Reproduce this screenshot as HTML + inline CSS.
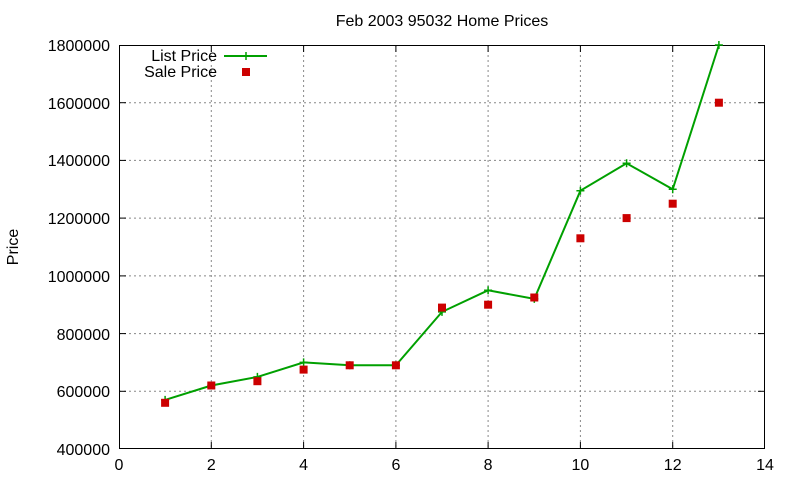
<!DOCTYPE html>
<html><head><meta charset="utf-8"><style>body{margin:0;background:#fff}svg{display:block}text{font-family:"Liberation Sans",sans-serif;font-size:16px;fill:#000}</style></head><body>
<svg width="800" height="480" xmlns="http://www.w3.org/2000/svg">
<rect width="800" height="480" fill="#fff"/>
<g stroke="#888" stroke-width="1" stroke-dasharray="2,3">
<line x1="119" y1="391.3" x2="765" y2="391.3"/><line x1="119" y1="333.6" x2="765" y2="333.6"/><line x1="119" y1="275.9" x2="765" y2="275.9"/><line x1="119" y1="218.1" x2="765" y2="218.1"/><line x1="119" y1="160.4" x2="765" y2="160.4"/><line x1="119" y1="102.7" x2="765" y2="102.7"/>
<line x1="211.3" y1="45" x2="211.3" y2="449"/><line x1="303.6" y1="45" x2="303.6" y2="449"/><line x1="395.9" y1="45" x2="395.9" y2="449"/><line x1="488.1" y1="45" x2="488.1" y2="449"/><line x1="580.4" y1="45" x2="580.4" y2="449"/><line x1="672.7" y1="45" x2="672.7" y2="449"/>
</g>
<rect x="119.5" y="45.5" width="645" height="403" fill="none" stroke="#000"/>
<g stroke="#000">
<line x1="119" y1="391.3" x2="126" y2="391.3"/><line x1="119" y1="333.6" x2="126" y2="333.6"/><line x1="119" y1="275.9" x2="126" y2="275.9"/><line x1="119" y1="218.1" x2="126" y2="218.1"/><line x1="119" y1="160.4" x2="126" y2="160.4"/><line x1="119" y1="102.7" x2="126" y2="102.7"/>
<line x1="758" y1="391.3" x2="765" y2="391.3"/><line x1="758" y1="333.6" x2="765" y2="333.6"/><line x1="758" y1="275.9" x2="765" y2="275.9"/><line x1="758" y1="218.1" x2="765" y2="218.1"/><line x1="758" y1="160.4" x2="765" y2="160.4"/><line x1="758" y1="102.7" x2="765" y2="102.7"/>
<line x1="211.3" y1="449" x2="211.3" y2="442"/><line x1="303.6" y1="449" x2="303.6" y2="442"/><line x1="395.9" y1="449" x2="395.9" y2="442"/><line x1="488.1" y1="449" x2="488.1" y2="442"/><line x1="580.4" y1="449" x2="580.4" y2="442"/><line x1="672.7" y1="449" x2="672.7" y2="442"/>
<line x1="211.3" y1="45" x2="211.3" y2="52"/><line x1="303.6" y1="45" x2="303.6" y2="52"/><line x1="395.9" y1="45" x2="395.9" y2="52"/><line x1="488.1" y1="45" x2="488.1" y2="52"/><line x1="580.4" y1="45" x2="580.4" y2="52"/><line x1="672.7" y1="45" x2="672.7" y2="52"/>
</g>
<g text-anchor="end">
<text x="110" y="455">400000</text><text x="110" y="397">600000</text><text x="110" y="340">800000</text><text x="110" y="282">1000000</text><text x="110" y="224">1200000</text><text x="110" y="166">1400000</text><text x="110" y="109">1600000</text><text x="110" y="51">1800000</text>
</g>
<g text-anchor="middle">
<text x="119" y="470">0</text><text x="211.3" y="470">2</text><text x="303.6" y="470">4</text><text x="395.9" y="470">6</text><text x="488.1" y="470">8</text><text x="580.4" y="470">10</text><text x="672.7" y="470">12</text><text x="765" y="470">14</text>
<text x="442" y="26">Feb 2003 95032 Home Prices</text>
<text transform="translate(18,247) rotate(-90)">Price</text>
</g>
<text x="217" y="61" text-anchor="end">List Price</text>
<text x="217" y="77" text-anchor="end">Sale Price</text>
<g stroke="#00a000" stroke-width="2" fill="none">
<line x1="224" y1="56" x2="267" y2="56"/>
<polyline points="165.1,399.9 211.3,385.5 257.4,376.9 303.6,362.4 349.7,365.3 395.9,365.3 442,311.9 488.1,290.3 534.3,298.9 580.4,190.7 626.6,163.3 672.7,189.3 718.9,45"/>
</g>
<g stroke="#00a000" stroke-width="1.5">
<path d="M242,56h8M246,52v8 M161.1,399.9h8M165.1,395.9v8 M207.3,385.5h8M211.3,381.5v8 M253.4,376.9h8M257.4,372.9v8 M299.6,362.4h8M303.6,358.4v8 M345.7,365.3h8M349.7,361.3v8 M391.9,365.3h8M395.9,361.3v8 M438,311.9h8M442,307.9v8 M484.1,290.3h8M488.1,286.3v8 M530.3,298.9h8M534.3,294.9v8 M576.4,190.7h8M580.4,186.7v8 M622.6,163.3h8M626.6,159.3v8 M668.7,189.3h8M672.7,185.3v8 M714.9,45h8M718.9,41v8"/>
</g>
<g fill="#cc0000">
<rect x="242" y="68" width="8" height="8"/>
<rect x="161.1" y="398.8" width="8" height="8"/><rect x="207.3" y="381.5" width="8" height="8"/><rect x="253.4" y="377.2" width="8" height="8"/><rect x="299.6" y="365.6" width="8" height="8"/><rect x="345.7" y="361.3" width="8" height="8"/><rect x="391.9" y="361.3" width="8" height="8"/><rect x="438" y="303.6" width="8" height="8"/><rect x="484.1" y="300.7" width="8" height="8"/><rect x="530.3" y="293.5" width="8" height="8"/><rect x="576.4" y="234.3" width="8" height="8"/><rect x="622.6" y="214.1" width="8" height="8"/><rect x="668.7" y="199.7" width="8" height="8"/><rect x="714.9" y="98.7" width="8" height="8"/>
</g>
</svg>
</body></html>
